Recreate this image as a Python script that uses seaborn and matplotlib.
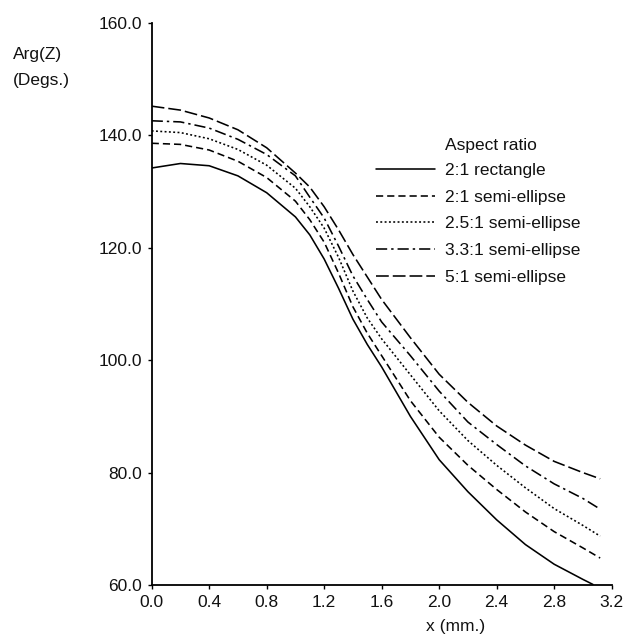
import numpy as np
import pandas as pd
import seaborn as sns
import matplotlib.pyplot as plt

# values
ratios = ["2:1 rectangle", "2:1 semi-ellipse", "2.5:1 semi-ellipse",
          "3.3:1 semi-ellipse", "5:1 semi-ellipse"]

x_rect = [0.0, 0.2, 0.4, 0.6, 0.8, 1.0, 1.1, 1.2, 1.3, 1.4, 1.5, 1.6, 1.8, 2.0,
          2.2, 2.4, 2.6, 2.8, 3.0, 3.07]
arg_rect = [134.2, 135.0, 134.6, 132.8, 129.8, 125.5, 122.3, 118.0, 112.8, 107.3,
            102.8, 98.8, 90.0, 82.3, 76.6, 71.6, 67.2, 63.7, 61.0, 60.1]

x_semi = [0.0, 0.2, 0.4, 0.6, 0.8, 1.0, 1.1, 1.2, 1.3, 1.4, 1.5, 1.6, 1.8, 2.0,
          2.2, 2.4, 2.6, 2.8, 3.0, 3.12]
arg_2 = [138.6, 138.4, 137.4, 135.4, 132.5, 128.3, 125.0, 121.0, 115.5, 109.5,
         104.8, 100.8, 92.8, 86.3, 81.3, 77.0, 73.0, 69.5, 66.6, 64.8]
arg_25 = [140.8, 140.5, 139.4, 137.5, 134.7, 130.6, 127.3, 123.5, 118.3, 112.3,
          107.5, 103.8, 97.4, 91.0, 85.7, 81.3, 77.3, 73.6, 70.6, 68.7]
arg_33 = [142.6, 142.4, 141.3, 139.3, 136.6, 132.8, 129.0, 125.3, 120.3, 115.0,
          110.8, 106.8, 100.8, 94.5, 89.0, 85.0, 81.2, 78.0, 75.4, 73.5]
arg_5 = [145.2, 144.5, 143.1, 141.0, 137.8, 133.3, 130.8, 127.3, 123.2, 118.8,
         114.8, 110.8, 104.0, 97.5, 92.5, 88.3, 84.9, 82.0, 80.0, 78.9]

x_ticks = [0.0, 0.4, 0.8, 1.2, 1.6, 2.0, 2.4, 2.8, 3.2]
y_ticks = [60.0, 80.0, 100.0, 120.0, 140.0, 160.0]

frames = []
for name, xs, ys in zip(ratios, [x_rect, x_semi, x_semi, x_semi, x_semi],
                        [arg_rect, arg_2, arg_25, arg_33, arg_5]):
    frames.append(pd.DataFrame({"x": xs, "arg": ys, "ratio": name}))
df = pd.concat(frames, ignore_index=True)

dash_map = {
    "2:1 rectangle": "",
    "2:1 semi-ellipse": (4.5, 2.5),
    "2.5:1 semi-ellipse": (1.2, 1.5),
    "3.3:1 semi-ellipse": (7, 2.5, 1.5, 2.5),
    "5:1 semi-ellipse": (8, 2.5),
}

sns.set_theme(style="ticks")
plt.rcParams["font.family"] = ["Liberation Sans", "DejaVu Sans"]

fig = plt.figure(figsize=(6.26, 6.37), dpi=100)
ax = fig.add_axes([0.2423, 0.0816, 0.7348, 0.8823])

sns.lineplot(data=df, x="x", y="arg", style="ratio", style_order=ratios,
             dashes=dash_map, color="black", lw=1.15, sort=False,
             estimator=None, legend=False, ax=ax)

ax.set_xlim(0, 3.2)
ax.set_ylim(60, 160)
ax.set_xticks(x_ticks)
ax.set_xticklabels(["%.1f" % v for v in x_ticks])
ax.set_yticks(y_ticks)
ax.set_yticklabels(["%.1f" % v for v in y_ticks])
ax.tick_params(axis="both", direction="out", length=3, width=1, color="black",
               labelsize=12.5, labelcolor="#111111", pad=4)
for side in ["top", "right"]:
    ax.spines[side].set_visible(False)
for side in ["left", "bottom"]:
    ax.spines[side].set_color("black")
    ax.spines[side].set_linewidth(1.3)
ax.set_xlabel("")
ax.set_ylabel("")

fig.text(13 / 626, 1 - 55 / 637, "Arg(Z)", fontsize=12.5, ha="left", va="center", color="#111111")
fig.text(13 / 626, 1 - 81 / 637, "(Degs.)", fontsize=12.5, ha="left", va="center", color="#111111")
fig.text(456 / 626, 1 - 626 / 637, "x (mm.)", fontsize=12.5, ha="center", va="center", color="#111111")

fig.text(445 / 626, 1 - 146 / 637, "Aspect ratio", fontsize=12.5, ha="left", va="center", color="#111111")
leg = ax.legend(ax.get_lines()[:5], ratios, loc="upper left",
                bbox_to_anchor=(376 / 626, 1 - 163 / 637), bbox_transform=fig.transFigure,
                frameon=False, borderpad=0, borderaxespad=0, fontsize=12.5,
                handlelength=3.4, handletextpad=0.55, labelspacing=0.66)
for t in leg.get_texts():
    t.set_color("#111111")

fig.savefig("out.png", dpi=100)
